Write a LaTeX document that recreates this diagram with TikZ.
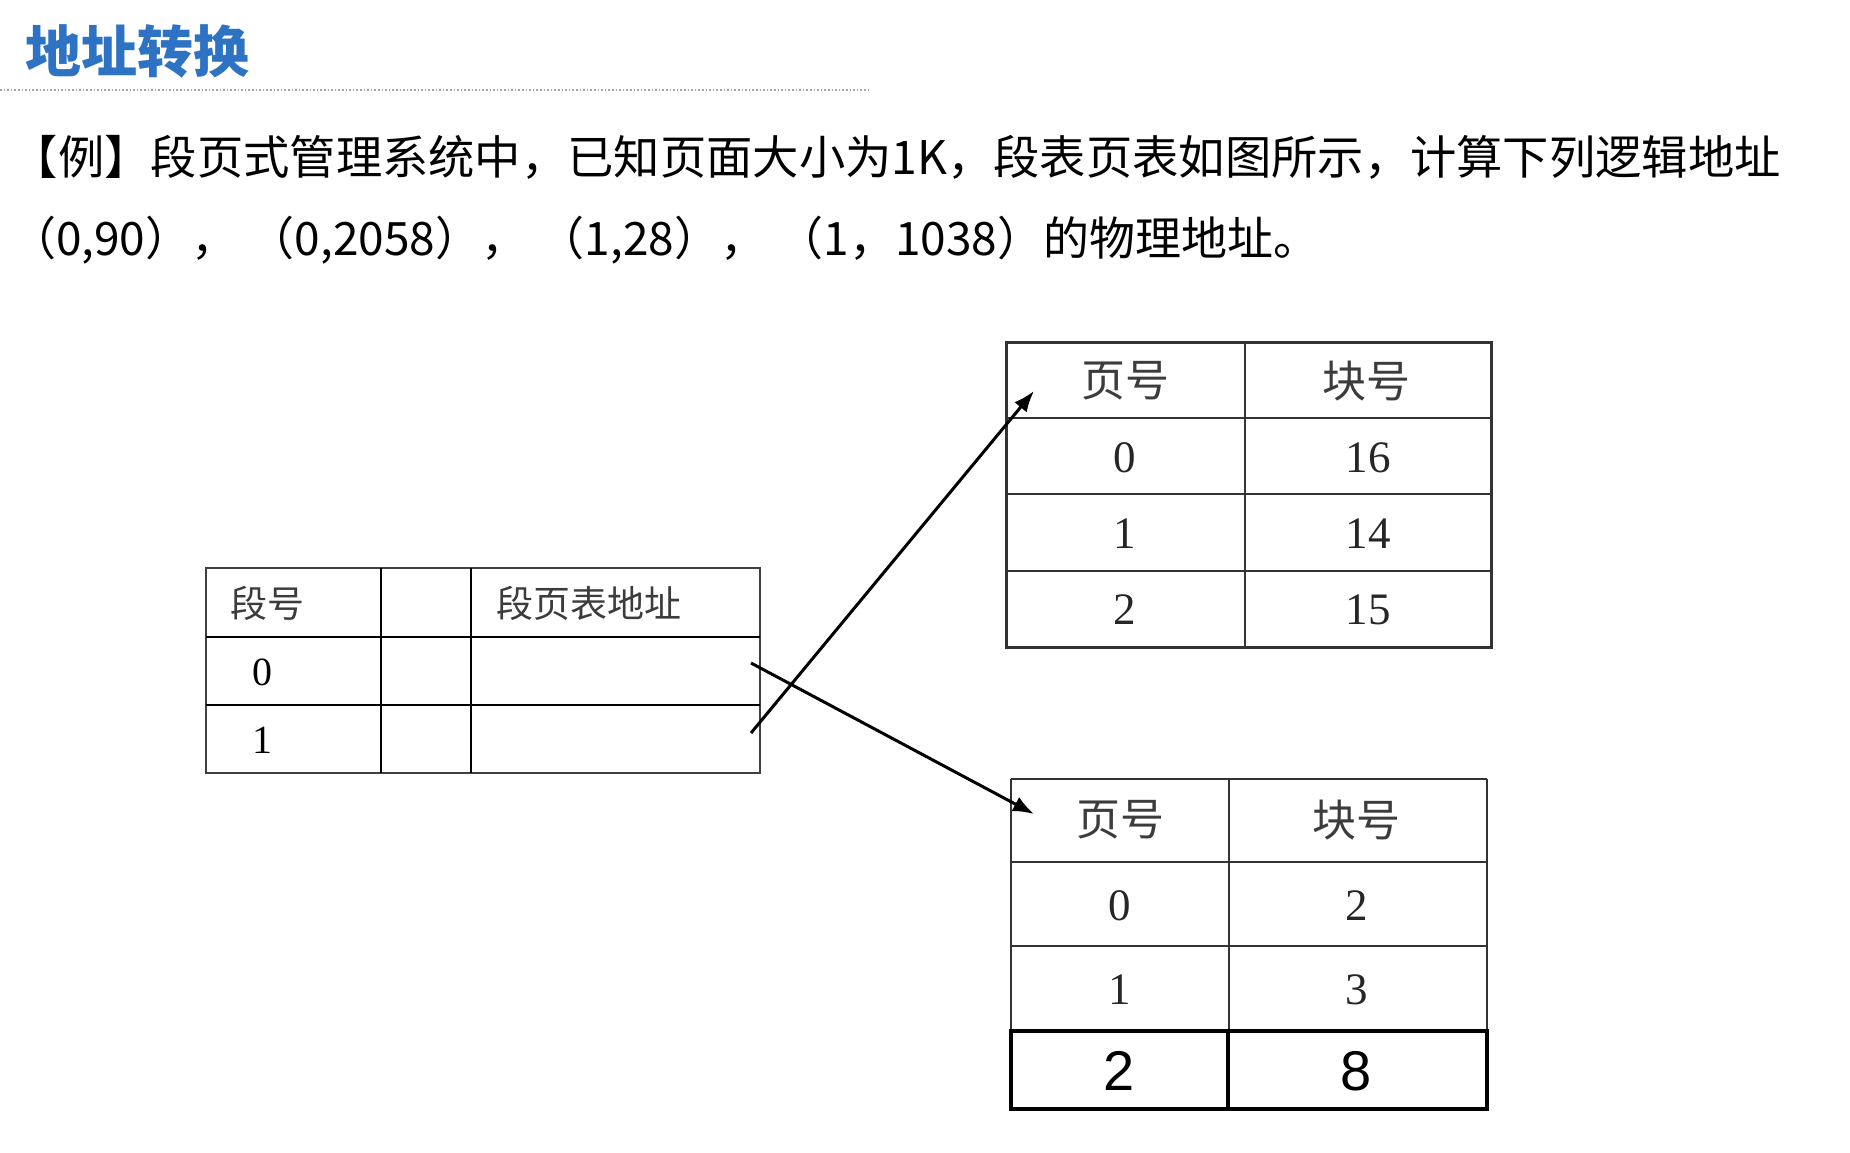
\documentclass[tikz,border=0pt]{standalone}
\usepackage{fontspec}
\setmainfont{Liberation Serif}
\newfontfamily\cjk{Noto Sans CJK SC}
\newfontfamily\sansdig{Liberation Sans}
\usetikzlibrary{arrows.meta}
\definecolor{titleblue}{RGB}{46,114,196}
\definecolor{celltext}{RGB}{60,60,60}
\begin{document}
\begin{tikzpicture}[x=1pt,y=-1pt,
  txt/.style={inner sep=0pt, outer sep=0pt},
  outerline/.style={draw=black!75, line width=1.8pt},
  innerline/.style={draw=black, line width=2.8pt},
  rline/.style={draw=black!80, line width=2.6pt},
  boldrow/.style={draw=black, line width=3.6pt},
  hdr/.style={txt, font=\cjk\fontsize{44}{44}\selectfont, text=celltext},
  num/.style={txt, font=\fontsize{45}{45}\selectfont, text=black!85},
  bignum/.style={txt, font=\sansdig\fontsize{56}{56}\selectfont, text=black},
  arr/.style={draw=black, line width=3pt, -{Latex[length=21pt,width=16pt]}}
]
\useasboundingbox (0,0) rectangle (1850,1152);
\fill[white] (0,0) rectangle (1850,1152);

% title
\node[txt, anchor=west, font=\cjk\bfseries\fontsize{56}{56}\selectfont, text=titleblue] (title) at (25,51) {地址转换};
\draw[black!35, line width=1.6pt, dotted] (0,90) -- (871,90);

% question
\node[txt, anchor=west, font=\cjk\fontsize{46.3}{46.3}\selectfont] (q1) at (12,157) {【例】段页式管理系统中，已知页面大小为1K，段表页表如图所示，计算下列逻辑地址};
\node[txt, anchor=west, font=\cjk\fontsize{46}{46}\selectfont] (q2) at (10,240) {（0,90），\hspace{0.25em}（0,2058），\hspace{0.25em}（1,28），\hspace{0.25em}（1，1038）的物理地址。};

% segment table
\draw[outerline] (206,568) rectangle (760,773);
\draw[innerline] (206,637) -- (760,637);
\draw[innerline] (206,705) -- (760,705);
\draw[innerline] (381,568) -- (381,773);
\draw[innerline] (471,568) -- (471,773);
\node[txt, anchor=west, font=\cjk\fontsize{37}{37}\selectfont, text=celltext] (sh1) at (230,603) {段号};
\node[txt, anchor=west, font=\cjk\fontsize{37}{37}\selectfont, text=celltext] (sh2) at (496,603) {段页表地址};
\node[txt, font=\fontsize{40}{40}\selectfont] (s0) at (262,672) {0};
\node[txt, font=\fontsize{40}{40}\selectfont] (s1) at (262,740) {1};

% page table 0
\draw[rline, line width=3pt] (1006,342) rectangle (1491,647);
\draw[rline] (1006,418) -- (1491,418);
\draw[rline] (1006,494) -- (1491,494);
\draw[rline] (1006,571) -- (1491,571);
\draw[rline] (1245,342) -- (1245,647);
\node[hdr] (p0h1) at (1125,381) {页号};
\node[hdr] (p0h2) at (1366,381) {块号};
\node[num] (p0a0) at (1125,458) {0};
\node[num] (p0b0) at (1368,458) {16};
\node[num] (p0a1) at (1125,534) {1};
\node[num] (p0b1) at (1368,534) {14};
\node[num] (p0a2) at (1125,610) {2};
\node[num] (p0b2) at (1368,610) {15};

% page table 1
\draw[rline] (1011,779) -- (1487,779);
\draw[rline] (1011,779) -- (1011,1030);
\draw[rline] (1487,779) -- (1487,1030);
\draw[rline] (1011,862) -- (1487,862);
\draw[rline] (1011,946) -- (1487,946);
\draw[rline] (1229,779) -- (1229,1030);
\draw[boldrow] (1011,1031) rectangle (1487,1109);
\draw[boldrow] (1228,1031) -- (1228,1109);
\node[hdr] (p1h1) at (1120,820) {页号};
\node[hdr] (p1h2) at (1356,820) {块号};
\node[num] (p1a0) at (1120,906) {0};
\node[num] (p1b0) at (1357,906) {2};
\node[num] (p1a1) at (1120,990) {1};
\node[num] (p1b1) at (1357,990) {3};
\node[bignum] (p1a2) at (1119,1071) {2};
\node[bignum] (p1b2) at (1356,1071) {8};

% pointers
\coordinate (a1s) at (751,733);
\coordinate (a1e) at (1034,391);
\coordinate (a2s) at (751,663);
\coordinate (a2e) at (1034,814);
\draw[arr] (a1s) -- (a1e);
\draw[arr] (a2s) -- (a2e);
\end{tikzpicture}
\end{document}
